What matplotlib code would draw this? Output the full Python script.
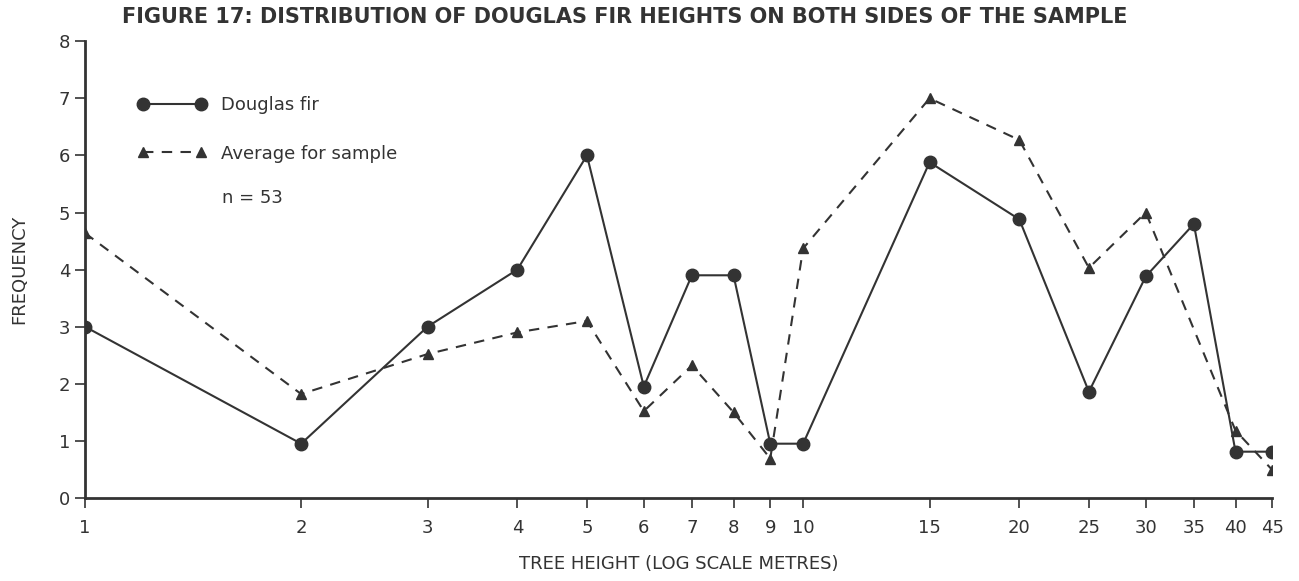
import matplotlib
matplotlib.use("Agg")
import matplotlib.pyplot as plt
from matplotlib.ticker import FixedLocator, FixedFormatter, NullLocator

plt.rcParams['font.family'] = ['DejaVu Sans']

# tree height classes (log scale metres)
fir_heights = [1, 2, 3, 4, 5, 6, 7, 8, 9, 10, 15, 20, 25, 30, 35, 40, 45]
fir_freq = [3.0, 0.95, 3.0, 4.0, 6.0, 1.95, 3.9, 3.9, 0.95, 0.95, 5.88, 4.88, 1.86, 3.88, 4.8, 0.81, 0.81]

avg_heights = [1, 2, 3, 4, 5, 6, 7, 8, 9, 10, 15, 20, 25, 30, 40, 45]
avg_freq = [4.64, 1.82, 2.52, 2.9, 3.1, 1.52, 2.32, 1.5, 0.69, 4.37, 7.0, 6.27, 4.03, 5.0, 1.18, 0.49]

tick_vals = [1, 2, 3, 4, 5, 6, 7, 8, 9, 10, 15, 20, 25, 30, 35, 40, 45]
tick_labels = [str(v) for v in tick_vals]

ink = '#333333'

fig = plt.figure(figsize=(12.99, 5.81), dpi=100)
ax = fig.add_axes([0.0654, 0.143, 0.914, 0.786])

ax.plot(fir_heights, fir_freq, color=ink, lw=1.5, marker='o', ms=9,
        label='Douglas fir')
ax.plot(avg_heights, avg_freq, color=ink, lw=1.5, ls=(0, (5, 4)), marker='^',
        ms=7, label='Average for sample')

ax.set_xscale('log')
ax.set_xlim(1, 45)
ax.set_ylim(0, 8)
ax.xaxis.set_major_locator(FixedLocator(tick_vals))
ax.xaxis.set_major_formatter(FixedFormatter(tick_labels))
ax.xaxis.set_minor_locator(NullLocator())
ax.set_yticks(range(0, 9))

for s in ['top', 'right']:
    ax.spines[s].set_visible(False)
for s in ['left', 'bottom']:
    ax.spines[s].set_linewidth(2)
    ax.spines[s].set_color(ink)
ax.tick_params(axis='both', colors=ink, labelsize=13, width=1.2, length=7)
ax.tick_params(axis='x', pad=8)

ax.set_xlabel('TREE HEIGHT (LOG SCALE METRES)', fontsize=13, color=ink, labelpad=13)
ax.set_ylabel('FREQUENCY', fontsize=13, color=ink, labelpad=22)
ax.set_title('FIGURE 17: DISTRIBUTION OF DOUGLAS FIR HEIGHTS ON BOTH SIDES OF THE SAMPLE',
             fontsize=15, fontweight='bold', color=ink, x=0.455, y=1.022)

leg = ax.legend(loc='upper left', bbox_to_anchor=(0.031, 0.916), frameon=False,
                numpoints=2, handlelength=3.8, fontsize=13, labelspacing=1.7,
                labelcolor=ink)
ax.text(0.1155, 0.657, 'n = 53', transform=ax.transAxes, fontsize=13, color=ink,
        va='center')

fig.savefig('out.png', dpi=100)
